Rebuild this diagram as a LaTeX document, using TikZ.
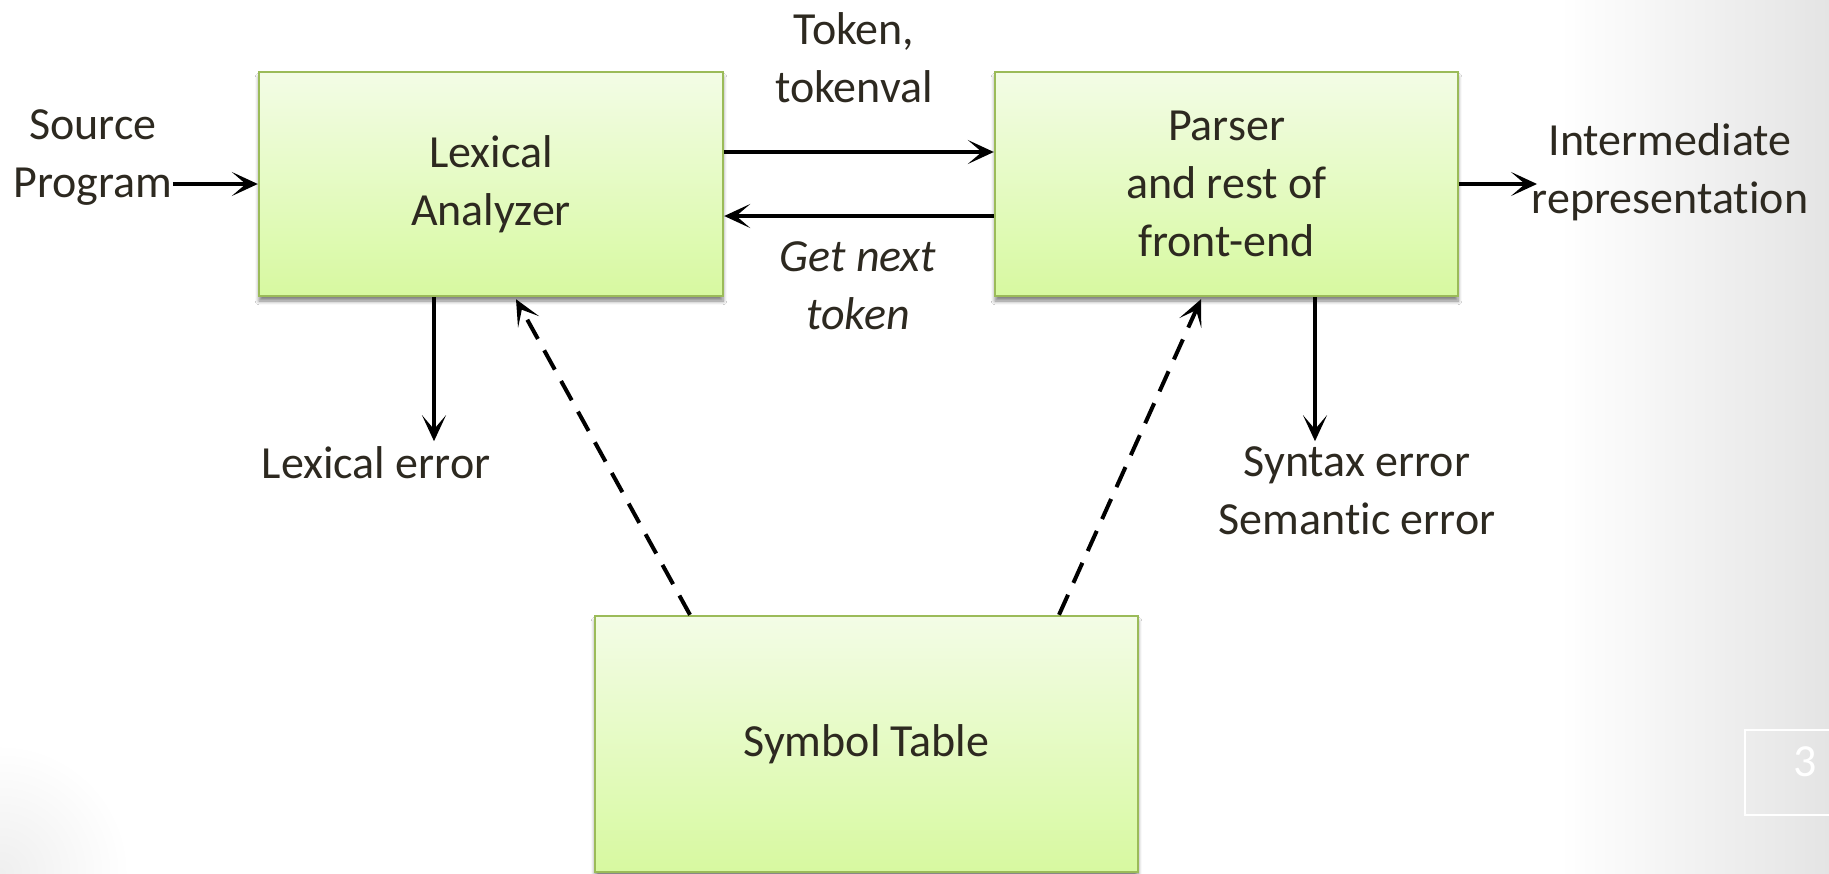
\documentclass[tikz,border=0pt]{standalone}
\usepackage{fontspec}
\setmainfont{Carlito}[Ligatures=NoCommon]
\usetikzlibrary{arrows.meta,shadows.blur,calc}

\definecolor{inkc}{RGB}{45,41,32}
\definecolor{boxedge}{RGB}{155,187,89}
\definecolor{boxtop}{RGB}{243,252,230}
\definecolor{boxbot}{RGB}{215,249,160}
\definecolor{bggray}{RGB}{228,228,228}

\begin{document}
\begin{tikzpicture}[x=0.5pt,y=-0.5pt,
  every node/.style={font=\fontsize{23}{29}\selectfont, text=inkc, align=center, inner sep=0pt},
  stage/.style={draw=boxedge, line width=1.2pt, top color=boxtop, bottom color=boxbot,
    blur shadow={shadow xshift=0pt, shadow yshift=-2.5pt, shadow blur steps=6, shadow opacity=50}},
  tip/.style={-{Stealth[length=13pt,width=12pt,inset=7pt]}},
  flow/.style={tip, line width=2.4pt},
  errflow/.style={tip, line width=2pt},
  lookup/.style={tip, line width=2pt, dash pattern=on 11pt off 6.5pt},
]
% slide background
\useasboundingbox (0,0) rectangle (1829,873);
\fill[white] (0,0) rectangle (1829,873);
\shade[left color=white, right color=bggray] (1560,0) rectangle (1829,873);
\begin{scope}
  \clip (0,0) rectangle (1829,873);
  \shade[inner color=bggray!60, outer color=white] (0,873) circle (130);
\end{scope}

% main stages
\node[stage, minimum width=232pt, minimum height=112pt] (lex) at (491,184) {Lexical\\Analyzer};
\node[stage, minimum width=231.5pt, minimum height=112pt] (par) at (1226.5,184) {Parser\\and rest of\\front-end};
\node[stage, minimum width=271.5pt, minimum height=128pt] (sym) at (866.5,744) {Symbol Table};

% labels
\node (src) at (93,158) {Source\\Program};
\node (tok) at (854,58) {Token,\\tokenval};
\node[font=\fontsize{23}{29}\selectfont\itshape] (gnt) at (858,286) {Get next\\token};
\node (ir) at (1670,172) {Intermediate\\representation};
\node (lexerr) at (376,463) {Lexical error};
\node (synerr) at (1357,491) {Syntax error\\Semantic error};
\coordinate (irend) at (1537,184);

% connectors
\draw[flow] (src.east |- lex.west) -- (lex.west);
\draw[flow] ([yshift=16pt]lex.east) -- ([yshift=16pt]par.west);
\draw[flow] ([yshift=-16pt]par.west) -- ([yshift=-16pt]lex.east);
\draw[flow] (par.east) -- (irend);
\draw[errflow] ([xshift=-28.5pt]lex.south) -- ++(0,144);
\draw[errflow] ([xshift=44.25pt]par.south) -- ++(0,144);
\draw[lookup] ([xshift=-88.25pt]sym.north) -- ([xshift=12.5pt,yshift=-1pt]lex.south);
\draw[lookup] ([xshift=96.25pt]sym.north) -- ([xshift=-12.75pt,yshift=-1pt]par.south);

% slide number
\draw[white, line width=1.2pt] (1900,730) -- (1745,730) -- (1745,815) -- (1900,815);
\node[text=white] (pgno) at (1805,762) {3};
\end{tikzpicture}
\end{document}
